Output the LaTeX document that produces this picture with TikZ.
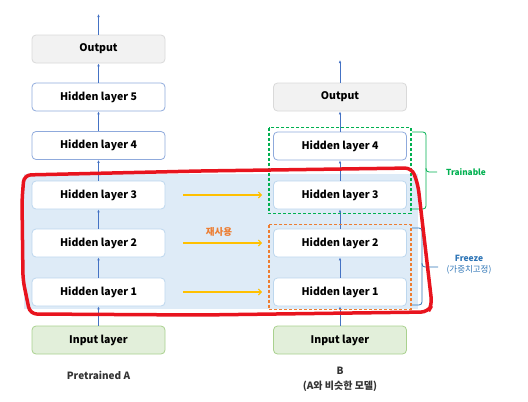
\documentclass[tikz,border=0pt]{standalone}
\usepackage{fontspec}
\setmainfont{Noto Sans CJK KR}
\usetikzlibrary{arrows.meta}
\definecolor{nenxanh}{HTML}{DEEBF7}
\definecolor{vien}{HTML}{8FAADC}
\definecolor{vienn}{HTML}{BDD7EE}
\definecolor{muiten}{HTML}{4472C4}
\definecolor{vang}{HTML}{FFC000}
\definecolor{cam}{HTML}{ED7D31}
\definecolor{xanhla}{HTML}{00B050}
\definecolor{do}{HTML}{E8141E}
\definecolor{chuxanh}{HTML}{2E75B6}
\definecolor{nenvao}{HTML}{E2EFDA}
\definecolor{vienvao}{HTML}{A9D18E}
\begin{document}
\begin{tikzpicture}[x=1pt,y=-1pt,
	lop/.style={draw=vien,fill=white,rounded corners=4pt,line width=.8pt,
		minimum width=133pt,minimum height=28pt,inner sep=0pt,
		font=\bfseries\fontsize{10.5}{12}\selectfont},
	lopnhat/.style={lop,draw=vienn},
	ra/.style={lop,draw=black!15,fill=black!5},
	vao/.style={lop,draw=vienvao,fill=nenvao},
	mui/.style={muiten,line width=.6pt,-{Latex[length=3pt,width=2.6pt]}},
	dung/.style={draw=vang,line width=1.1pt,-{Straight Barb[length=3pt,width=6pt]},shorten <=18pt,shorten >=11pt},
	khung/.style={dashed,line width=1.4pt,dash pattern=on 3pt off 2pt}]
	\useasboundingbox (0,0) rectangle (528,402);
	\def\xa{98.5}
	\def\xb{340}
	% nen xanh phia sau
	\fill[nenxanh] (24,174) rectangle (418,309);
	\begin{scope}
		\path (\xa,340) node[vao] (A0) {Input layer};
		\foreach \i/\y in {1/292,2/243,3/195}
		\node[lopnhat] (A\i) at (\xa,\y) {Hidden layer \i};
		\foreach \i/\y in {4/145.5,5/97}
		\node[lop] (A\i) at (\xa,\y) {Hidden layer \i};
		\path (\xa,49) node[ra] (A6) {Output};
		\coordinate (Atop) at (\xa,14);
		\foreach \p/\q in {A0/A1,A1/A2,A2/A3,A3/A4,A4/A5,A5/A6}
		\draw[mui] (\p) -- (\q);
		\draw[mui] (A6.north) -- (Atop);
		\path (\xa,375) node[font=\bfseries\fontsize{10}{12}\selectfont,text=black!80] {Pretrained A};
	\end{scope}
	\begin{scope}
		\path (\xb,340) node[vao] (B0) {Input layer};
		\foreach \i/\y in {1/292,2/243,3/195}
		\node[lopnhat] (B\i) at (\xb,\y) {Hidden layer \i};
		\path (\xb,146) node[lop] (B4) {Hidden layer 4};
		\path (\xb,97) node[ra] (B5) {Output};
		\coordinate (Btop) at (\xb,60);
		\foreach \p/\q in {B0/B1,B1/B2,B2/B3,B3/B4,B4/B5}
		\draw[mui] (\p) -- (\q);
		\draw[mui] (B5.north) -- (Btop);
		\path (\xb,371) node[font=\bfseries\fontsize{10}{12}\selectfont,text=black!80] {B}
		(\xb,386) node[font=\bfseries\fontsize{10}{12}\selectfont,text=black!80] {(A와 비슷한 모델)};
	\end{scope}
	% tai su dung
	\draw[dung] (A3.east) -- (B3.west);
	\draw[dung] (A2.east) -- (B2.west);
	\draw[dung] (A1.east) -- (B1.west);
	\path (219,232) node[text=cam,font=\bfseries\fontsize{9.5}{11}\selectfont] {재사용};
	% khung net dut
	\draw[khung,xanhla] ([xshift=-4pt,yshift=4pt]B4.north west) rectangle ([xshift=4pt,yshift=-4pt]B3.south east);
	\draw[khung,cam] ([xshift=-4pt,yshift=4pt]B2.north west) rectangle ([xshift=4pt,yshift=-3pt]B1.south east);
	\draw[xanhla,line width=.8pt,rounded corners=3pt] (412,132) -- (426,132) -- (426,172) -- (437,172);
	\draw[xanhla,line width=.8pt,rounded corners=3pt] (426,168) -- (426,209) -- (412,209);
	\path (466,172) node[text=xanhla,font=\bfseries\fontsize{8.3}{10}\selectfont] {Trainable};
	\draw[chuxanh,line width=.8pt,rounded corners=3pt] (412,228) -- (422,228) -- (422,267) -- (438,267);
	\draw[chuxanh,line width=.8pt,rounded corners=3pt] (422,263) -- (422,305) -- (412,305);
	\path (469,258) node[text=chuxanh,font=\bfseries\fontsize{8.5}{10}\selectfont] {Freeze}
	(469,270) node[text=chuxanh,font=\fontsize{8.5}{10}\selectfont] {(가중치고정)};
	% vien do ve tay
	\draw[do,line width=3.5pt,rounded corners=7pt] (30,314) -- (23,280) -- (22,200) -- (24,175)
	-- (200,171) -- (412,168) -- (418,185) -- (432,305) -- (428,312) -- (200,315) -- cycle;
\end{tikzpicture}
\end{document}
